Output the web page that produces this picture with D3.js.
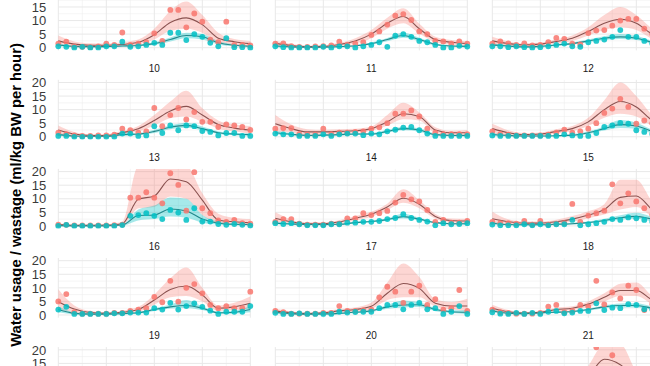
<!DOCTYPE html>
<html>
<head>
<meta charset="utf-8">
<script src="https://cdn.jsdelivr.net/npm/d3@7"></script>
<style>
  body { margin: 0; background: #fff; }
  svg { display: block; font-family: "Liberation Sans", Arial, sans-serif; }
</style>
</head>
<body>
<div id="chart"></div>
<script>
// facet ids, left to right, top to bottom (22 and 23 are cut off, nothing visible)
var panelIds = [10, 11, 12, 13, 14, 15, 16, 17, 18, 19, 20, 21, 22, 23, 24];
var hours = [0, 1, 2, 3, 4, 5, 6, 7, 8, 9, 10, 11, 12, 13, 14, 15, 16, 17, 18, 19, 20, 21, 22, 23, 24];
var fitHours = [0, 2, 4, 6, 8, 10, 12, 14, 16, 18, 20, 22, 24];
var yTicks = [0, 5, 10, 15, 20];

// observed usage (red) per hour
var usagePoints = [
  [1.5,2.2,0.5,0.3,0.2,0.5,1.5,1.0,5.6,1.0,1.5,2.0,5.3,2.5,13.9,13.9,7.5,12.6,9.6,3.0,2.0,9.6,1.0,1.0,0.8],
  [1.5,1.6,0.6,0.3,0.3,0.5,0.6,0.8,2.2,1.0,1.5,2.0,4.7,6.0,8.5,11.8,12.4,10.2,6.0,5.0,2.5,2.3,1.5,2.3,1.5],
  [1.5,2.3,1.6,1.0,1.6,0.8,1.0,2.0,3.6,3.2,1.5,1.2,5.4,6.3,6.5,8.1,10.0,10.6,10.6,7.0,5.0,4.0,3.0,2.5,2.0],
  [1.5,1.0,0.5,0.3,0.3,0.5,0.5,0.8,3.0,2.4,1.5,2.0,10.6,3.9,8.0,10.6,6.4,9.1,5.5,5.5,3.6,4.6,4.2,3.6,2.5],
  [3.0,3.2,3.2,1.0,0.8,0.8,3.0,1.0,1.5,1.5,1.8,2.0,3.0,3.5,5.0,8.5,8.5,9.7,7.5,3.0,1.5,1.0,1.0,1.0,1.0],
  [2.0,1.0,0.8,0.5,0.5,0.5,0.5,0.8,1.5,2.6,1.5,2.0,3.0,5.0,8.8,10.4,14.0,11.0,4.8,6.0,5.0,4.0,3.0,3.0,3.0],
  [0.5,0.4,0.2,0.2,0.2,0.2,0.2,0.3,0.5,10.4,10.4,12.4,10.4,8.3,19.4,15.1,5.6,19.8,6.5,4.7,2.0,1.5,2.2,1.0,0.8],
  [1.5,2.5,2.5,0.8,0.5,0.5,0.5,0.8,0.8,2.8,2.8,4.7,4.0,4.7,5.5,8.6,11.4,9.8,9.0,5.9,1.5,2.2,1.2,1.2,1.8],
  [1.5,1.0,1.0,0.8,1.8,0.5,1.8,0.5,0.8,1.0,8.1,1.5,3.8,4.7,5.6,15.3,8.3,12.0,9.0,6.5,4.0,3.0,2.5,2.0,2.0],
  [5.0,7.7,1.0,0.5,0.5,0.5,0.5,0.8,0.8,1.5,2.0,2.5,6.7,4.7,12.6,4.9,10.0,11.4,8.0,3.7,2.5,3.3,2.5,2.5,8.6],
  [1.5,1.0,0.5,0.5,0.5,0.5,0.8,0.8,3.3,1.5,1.5,1.8,2.0,6.5,10.4,8.6,4.5,8.6,10.8,3.7,5.8,2.0,2.5,9.2,1.5],
  [2.0,1.0,0.8,0.5,0.5,0.5,0.8,3.1,3.7,1.0,1.5,3.7,3.1,12.6,3.9,8.3,6.1,10.8,9.2,1.8,4.0,3.0,2.5,2.0,2.0],
  null,
  null,
  [2.0,1.0,1.0,1.0,1.0,1.0,1.0,1.0,2.0,2.0,3.0,4.0,8.0,20.9,10.0,18.0,11.0,9.0,8.0,5.0,4.0,3.0,3.0,2.0,2.0]
];

// observed wastage (teal) per hour
var wastagePoints = [
  [0.5,0.3,0,0.3,0,0,0.5,0.5,2.2,0.3,0.5,1.0,1.8,1.0,5.5,5.5,2.8,5.0,4.0,1.8,0.5,3.5,0.2,0.2,0],
  [0.5,0.2,0,0,0,0,0.3,0,0.5,0.5,0,0.5,1.0,2.0,0.3,4.4,5.0,4.0,2.5,2.0,1.0,0,0,0.7,0.4],
  [0.5,0.5,0.2,0.5,0.2,0,0.2,0.5,1.0,1.5,0.5,0.3,2.0,2.5,3.0,4.0,6.5,4.0,4.0,2.5,1.5,1.0,0.5,0.5,0.5],
  [0.3,0.3,0,0,0,0,0,0,1.2,1.2,0.3,0.5,3.9,1.4,4.2,2.4,4.2,3.9,2.1,1.8,0.5,1.4,1.4,0.3,0.3],
  [1.2,0.9,0.9,0.3,0.3,0.3,0.9,0.3,0.9,1.2,1.2,0.6,1.2,0.9,2.0,2.6,3.4,3.6,2.4,1.2,0.3,0.3,0.3,0.3,0.3],
  [0.5,0.3,0.3,0.3,0.3,0.3,0.3,0.3,0.3,0.9,0.5,0.3,0.3,1.4,3.6,4.2,5.1,4.8,2.4,1.8,1.0,0.5,0.5,0.5,0.5],
  [0,0.4,0,0,0,0,0,0,0.3,3.7,4.0,4.7,3.7,2.5,5.9,4.9,2.2,6.5,1.6,1.6,0.7,0.4,0.7,0.4,0.1],
  [1.0,0.7,1.0,0.6,0.2,0.2,0.2,0.6,0.6,1.2,1.2,1.5,1.5,1.8,2.5,2.9,4.3,2.9,2.2,1.6,0.2,1.0,0.6,0.7,1.0],
  [0.5,0.2,0.2,0.2,0.6,0.2,0.6,0.2,0.6,0.6,2.2,0.2,0.6,1.0,1.5,2.5,2.2,3.1,2.8,2.2,1.5,1.0,0.8,0.8,0.8],
  [2.0,3.0,0.4,0.4,0.4,0.4,0.4,0.6,0.6,0.9,0.9,0.9,2.5,2.0,4.5,2.0,3.3,4.3,3.0,1.6,0.4,1.2,1.2,1.2,3.3],
  [0.8,0.4,0.4,0.6,0.4,0.4,0.4,0.4,1.2,0.9,1.1,1.2,1.2,2.5,3.7,3.7,2.1,3.7,4.5,2.1,2.5,0.4,1.2,3.3,0.4],
  [1.0,0.5,0.4,0.8,0.4,0.8,0.4,1.2,1.5,0.6,0.9,1.5,1.5,4.3,1.8,2.7,2.5,4.0,3.7,2.1,2.0,1.5,1.0,1.0,1.0],
  null,
  null,
  [1.0,0.5,0.5,0.5,0.5,0.5,0.5,0.5,1.0,1.0,1.5,2.0,3.0,4.0,4.0,5.0,4.5,4.0,3.0,2.0,1.5,1.0,1.0,1.0,1.0]
];

// fitted curves + intervals, read at fitHours
var usageFit = [
  [2.5,1.3,0.9,0.9,1.2,2.0,4.8,9.3,11.0,8.5,3.5,2.2,1.5],
  [1.6,0.8,0.4,0.5,1.2,2.5,5.0,9.0,11.5,7.0,3.0,2.0,1.5],
  [2.5,1.5,1.0,1.3,2.3,3.5,6.0,9.0,10.5,9.0,5.0,3.0,2.0],
  [2.5,1.0,0.5,0.5,1.5,3.0,6.0,9.5,11.2,8.0,4.5,3.2,2.5],
  [4.8,3.0,1.8,1.8,2.0,2.2,3.0,5.5,8.5,7.5,2.5,1.5,1.5],
  [3.0,1.5,0.8,1.0,2.0,3.0,5.5,10.0,13.0,11.0,6.0,3.5,3.0],
  [0.5,0.2,0.2,0.3,0.8,9.8,11.0,17.3,16.3,9.5,2.2,1.5,1.2],
  [2.8,1.5,0.8,0.8,1.5,2.8,4.3,7.0,10.2,8.0,3.5,2.0,1.8],
  [2.6,1.5,1.0,1.0,1.5,2.5,4.0,6.0,10.5,11.0,6.0,3.0,2.0],
  [4.9,2.2,0.9,0.6,1.0,2.0,5.5,9.4,10.7,7.4,2.5,3.0,4.3],
  [1.5,0.8,0.5,0.8,1.5,2.0,3.2,8.0,11.6,9.8,4.3,3.3,3.3],
  [2.5,1.2,0.7,1.0,2.0,2.5,4.0,6.5,9.0,9.0,5.5,3.0,2.0],
  null,
  null,
  [3.0,1.5,1.0,1.0,2.0,4.0,10.0,16.5,14.5,9.0,5.0,3.0,2.0]
];
var usageLow = [
  [0.8,0.5,0.3,0.4,0.6,1.2,3.0,6.2,7.0,5.5,2.0,1.2,0.5],
  [0.6,0.2,0.0,0.1,0.6,1.5,3.5,7.0,9.0,5.2,2.0,1.2,0.6],
  [1.0,0.7,0.4,0.7,1.5,2.5,4.5,6.5,7.5,6.5,3.2,1.8,0.8],
  [0.8,0.3,0.0,0.0,0.8,2.0,4.2,6.8,7.5,5.5,3.0,2.0,1.0],
  [2.0,1.5,0.8,1.0,1.2,1.5,2.2,4.2,6.5,6.0,1.5,0.8,0.5],
  [1.2,0.6,0.2,0.4,1.2,2.0,4.0,7.0,8.5,7.5,4.0,2.2,1.5],
  [0.1,0,0,0,0.3,6.5,7.0,10.8,10.0,4.0,1.0,0.6,0.3],
  [1.5,0.8,0.3,0.3,0.9,2.0,3.4,5.8,8.5,6.5,2.6,1.3,1.0],
  [1.2,0.8,0.5,0.5,0.8,1.5,2.8,4.2,6.0,7.0,3.5,1.6,0.8],
  [2.0,1.0,0.3,0.2,0.5,1.2,3.8,6.5,7.0,5.0,1.5,1.8,2.5],
  [0.6,0.3,0.1,0.3,0.8,1.2,2.2,5.5,6.5,6.5,3.0,2.0,1.5],
  [1.2,0.6,0.3,0.5,1.3,1.8,3.0,5.0,7.0,7.0,4.0,2.0,1.0],
  null,
  null,
  [1.5,0.8,0.5,0.5,1.2,2.5,7.0,12.5,10.5,6.0,3.5,2.0,1.0]
];
var usageHigh = [
  [4.5,2.3,1.6,1.5,2.0,3.0,7.0,13.5,17.0,12.0,5.5,3.2,2.5],
  [2.6,1.4,0.8,0.9,1.8,3.5,6.5,11.0,14.5,8.8,4.0,2.8,2.4],
  [4.0,2.3,1.6,1.9,3.1,4.5,7.5,12.0,15.0,12.0,7.0,4.2,3.2],
  [4.2,1.8,1.0,1.0,2.2,4.0,8.0,13.0,17.0,10.5,6.0,4.5,4.0],
  [8.0,4.5,2.8,2.6,2.8,3.0,3.8,8.0,12.5,9.0,3.5,2.2,2.5],
  [4.8,2.4,1.4,1.6,2.8,4.0,7.0,13.5,20.0,15.0,8.0,4.8,4.5],
  [1.0,0.5,0.5,0.6,1.5,22,22,22,22,12.0,4.5,3.0,2.5],
  [5.0,2.3,1.3,1.3,2.1,3.6,5.2,8.2,13.5,9.5,4.4,2.7,2.6],
  [5.2,2.4,1.6,1.6,2.3,3.6,5.4,8.0,17.0,17.0,9.0,4.5,3.4],
  [9.5,3.5,1.5,1.0,1.6,3.0,7.5,13.5,17.5,10.0,3.5,4.5,6.8],
  [2.4,1.3,0.9,1.3,2.2,2.8,4.5,12.0,19.0,14.0,5.8,4.8,6.0],
  [3.8,1.8,1.1,1.5,2.7,3.2,5.0,8.0,11.5,12.0,7.0,4.0,3.0],
  null,
  null,
  [4.5,2.2,1.5,1.5,2.8,5.5,14.0,22.0,22.0,12.0,6.5,4.0,3.0]
];
var wastageFit = [
  [1.0,0.5,0.4,0.4,0.6,0.8,1.5,3.0,4.5,4.0,1.8,0.9,0.5],
  [0.6,0.3,0.2,0.2,0.4,0.7,1.5,3.0,4.5,3.0,1.2,0.6,0.5],
  [1.0,0.6,0.3,0.5,1.0,1.5,2.5,3.5,4.0,3.5,2.0,1.0,0.5],
  [0.8,0.3,0.2,0.2,0.8,1.0,2.0,3.5,4.2,3.0,1.5,1.0,0.8],
  [1.5,0.9,0.5,0.6,0.8,1.0,1.0,2.0,3.0,2.5,0.8,0.5,0.5],
  [0.8,0.5,0.3,0.3,0.4,0.6,1.5,3.0,4.5,4.0,2.0,1.0,0.8],
  [0.1,0,0,0,0.3,3.8,4.0,6.2,5.5,2.5,1.0,0.6,0.5],
  [1.0,0.7,0.5,0.5,0.6,1.2,1.6,2.3,3.4,2.5,1.2,0.8,0.8],
  [1.0,0.5,0.4,0.4,0.6,0.8,1.2,2.0,3.0,3.5,2.5,1.5,1.0],
  [2.0,0.6,0.3,0.3,0.5,0.8,2.0,3.0,3.5,2.5,0.8,1.0,2.0],
  [1.0,0.5,0.3,0.4,0.6,1.0,1.5,3.0,3.7,3.8,2.0,1.2,1.0],
  [1.5,0.7,0.5,0.8,1.0,1.3,2.0,3.0,3.5,3.5,2.5,1.5,1.0],
  null,
  null,
  [1.0,0.6,0.5,0.5,0.8,1.5,2.5,3.5,4.5,3.5,2.0,1.2,1.0]
];
var wastageLow = [
  [0.4,0.2,0.1,0.1,0.3,0.5,1.0,2.3,3.5,3.0,1.2,0.5,0.1],
  [0.2,0.1,0,0,0.1,0.4,1.1,2.4,3.7,2.4,0.8,0.3,0.1],
  [0.5,0.3,0.1,0.2,0.6,1.1,2.0,2.8,3.2,2.8,1.4,0.5,0.1],
  [0.3,0.1,0,0,0.4,0.6,1.4,2.8,3.3,2.3,1.0,0.6,0.3],
  [0.8,0.5,0.2,0.3,0.5,0.7,0.7,1.5,2.4,1.9,0.4,0.2,0.1],
  [0.3,0.2,0.1,0.1,0.2,0.3,1.0,2.3,3.2,3.0,1.3,0.5,0.2],
  [0,0,0,0,0.1,2.0,2.5,3.5,3.0,1.2,0.5,0.2,0.1],
  [0.6,0.4,0.2,0.2,0.4,0.9,1.3,1.9,2.7,2.0,0.9,0.5,0.4],
  [0.5,0.2,0.1,0.1,0.3,0.5,0.9,1.5,2.3,2.6,1.7,0.9,0.4],
  [1.0,0.2,0,0,0.2,0.5,1.5,2.4,2.6,1.8,0.4,0.5,1.0],
  [0.5,0.2,0.1,0.1,0.3,0.7,1.1,2.3,2.8,2.9,1.4,0.7,0.3],
  [1.0,0.4,0.2,0.5,0.7,1.0,1.6,2.5,2.8,2.8,1.9,1.0,0.5],
  null,
  null,
  [0.4,0.2,0.1,0.1,0.3,0.9,1.8,2.8,3.6,2.8,1.4,0.6,0.3]
];
var wastageHigh = [
  [1.6,0.8,0.7,0.7,0.9,1.2,2.0,3.8,5.5,5.0,2.4,1.3,0.9],
  [1.0,0.6,0.4,0.4,0.7,1.0,1.9,3.6,5.5,3.7,1.6,1.0,0.9],
  [1.5,0.9,0.5,0.8,1.4,1.9,3.0,4.2,5.0,4.3,2.6,1.5,0.9],
  [1.3,0.6,0.4,0.4,1.2,1.4,2.6,4.2,5.2,3.8,2.0,1.4,1.3],
  [2.2,1.3,0.8,0.9,1.1,1.3,1.4,2.5,3.6,3.1,1.2,0.8,0.9],
  [1.3,0.8,0.5,0.5,0.6,0.9,2.0,3.8,6.2,5.2,2.7,1.5,1.4],
  [0.3,0.2,0.2,0.2,0.6,6.0,7.5,10.5,10.0,4.0,1.6,1.0,0.9],
  [1.4,1.0,0.8,0.8,0.8,1.5,1.9,2.8,4.5,3.0,1.5,1.1,1.2],
  [1.5,0.8,0.7,0.7,0.9,1.1,1.6,2.6,3.9,4.8,3.3,2.1,1.6],
  [3.2,1.0,0.6,0.6,0.8,1.2,2.5,3.8,5.5,3.2,1.2,1.6,3.2],
  [1.5,0.8,0.6,0.7,0.9,1.3,1.9,3.7,5.3,4.7,2.6,1.7,1.7],
  [2.0,1.0,0.8,1.1,1.3,1.6,2.4,3.5,4.2,4.3,3.1,2.0,1.5],
  null,
  null,
  [1.6,1.0,0.9,0.9,1.3,2.1,3.2,4.2,5.4,4.2,2.6,1.8,1.7]
];

var width = 650, height = 366;
var nCols = 3;
var colLeft = 58.3, colStep = 217, panelW = 192;
var rowTop = -9.3, rowStep = 89.1, panelH = 59.7;

var usageColor = "#F8766D", wastageColor = "#00BFC4";

var svg = d3.select("#chart").append("svg")
  .attr("width", width)
  .attr("height", height);

var x = d3.scaleLinear().domain([0, 24]).range([0, panelW]);
var y = d3.scaleLinear().domain([-1, 21]).range([panelH, 0]);

var defs = svg.append("defs");

panelIds.forEach(function(id, i) {
  var col = i % nCols, row = Math.floor(i / nCols);
  var g = svg.append("g")
    .attr("transform", `translate(${colLeft + col * colStep}, ${rowTop + row * rowStep})`);

  // grid (theme_minimal look)
  var vMinor = [3, 9, 15, 21], vMajor = [0, 6, 12, 18, 24];
  var hMinor = [2.5, 7.5, 12.5, 17.5];
  g.selectAll(".vminor").data(vMinor).enter().append("line")
    .attr("x1", d => x(d)).attr("x2", d => x(d))
    .attr("y1", 0).attr("y2", panelH)
    .attr("stroke", "#efefef").attr("stroke-width", 0.6);
  g.selectAll(".hminor").data(hMinor).enter().append("line")
    .attr("x1", 0).attr("x2", panelW)
    .attr("y1", d => y(d)).attr("y2", d => y(d))
    .attr("stroke", "#efefef").attr("stroke-width", 0.6);
  g.selectAll(".vmajor").data(vMajor).enter().append("line")
    .attr("x1", d => x(d)).attr("x2", d => x(d))
    .attr("y1", 0).attr("y2", panelH)
    .attr("stroke", "#e8e8e8").attr("stroke-width", 1);
  g.selectAll(".hmajor").data(yTicks).enter().append("line")
    .attr("x1", 0).attr("x2", panelW)
    .attr("y1", d => y(d)).attr("y2", d => y(d))
    .attr("stroke", "#e8e8e8").attr("stroke-width", 1);

  // strip label under the panel
  g.append("text")
    .attr("x", panelW / 2)
    .attr("y", y(0) + 24)
    .attr("text-anchor", "middle")
    .attr("font-size", "10px")
    .attr("fill", "#1a1a1a")
    .text(id);

  // y axis labels only on the first column
  if (col === 0) {
    g.selectAll(".ytick").data(yTicks).enter().append("text")
      .attr("x", -12)
      .attr("y", d => y(d))
      .attr("dy", "0.36em")
      .attr("text-anchor", "end")
      .attr("font-size", "13px")
      .attr("fill", "#3a3a3a")
      .text(d => d);
  }

  if (!usagePoints[i]) return;

  defs.append("clipPath").attr("id", "clip" + id)
    .append("rect")
    .attr("x", -6).attr("y", 0)
    .attr("width", panelW + 12).attr("height", panelH);

  var inner = g.append("g").attr("clip-path", `url(#clip${id})`);

  var series = [
    { fit: usageFit[i], lo: usageLow[i], hi: usageHigh[i], pts: usagePoints[i], color: usageColor, line: "#8a5250", op: 0.3 },
    { fit: wastageFit[i], lo: wastageLow[i], hi: wastageHigh[i], pts: wastagePoints[i], color: wastageColor, line: "#23888b", op: 0.35 }
  ];

  var area = d3.area()
    .x((d, k) => x(fitHours[k]))
    .y0(d => y(d[0]))
    .y1(d => y(d[1]))
    .curve(d3.curveMonotoneX);
  var line = d3.line()
    .x((d, k) => x(fitHours[k]))
    .y(d => y(d))
    .curve(d3.curveMonotoneX);

  series.forEach(function(s) {
    inner.append("path")
      .datum(s.lo.map((v, k) => [v, s.hi[k]]))
      .attr("d", area)
      .attr("fill", s.color)
      .attr("fill-opacity", s.op);
  });
  series.forEach(function(s) {
    inner.append("path")
      .datum(s.fit)
      .attr("d", line)
      .attr("fill", "none")
      .attr("stroke", s.line)
      .attr("stroke-width", 1.1);
  });
  series.forEach(function(s) {
    inner.selectAll(null)
      .data(s.pts)
      .enter()
      .append("circle")
      .attr("cx", (d, k) => x(hours[k]))
      .attr("cy", d => y(d))
      .attr("r", 2.9)
      .attr("fill", s.color)
      .attr("fill-opacity", 0.85);
  });
});

svg.append("text")
  .attr("transform", "translate(21, 195) rotate(-90)")
  .attr("text-anchor", "middle")
  .attr("font-size", "14.8px")
  .attr("font-weight", "bold")
  .attr("fill", "#000")
  .text("Water usage / wastage (ml/kg BW per hour)");
</script>
</body>
</html>
